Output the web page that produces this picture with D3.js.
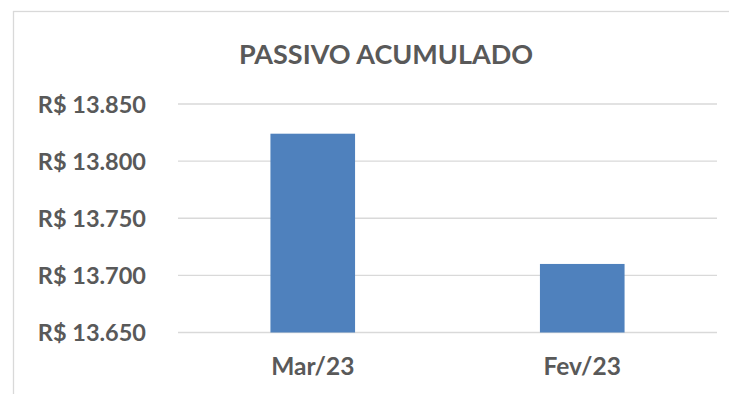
<!DOCTYPE html>
<html>
<head>
<meta charset="utf-8">
<script src="https://cdn.jsdelivr.net/npm/d3@7"></script>
<style>
  html, body { margin: 0; padding: 0; background: #fff; }
  svg { display: block; }
  text { font-family: Lato, "Open Sans", sans-serif; font-weight: bold; fill: #595959; }
</style>
</head>
<body>
<svg id="chart" width="729" height="394"></svg>
<script>
// Chart data
const title = "PASSIVO ACUMULADO";
const categories = ["Mar/23", "Fev/23"];
const values = [13824, 13710];
const tickValues = [13650, 13700, 13750, 13800, 13850];

const svg = d3.select("#chart");
const W = 729, H = 394;

// Chart area frame (open at the right and bottom edges)
svg.append("rect")
  .attr("x", 13.5).attr("y", 11.5)
  .attr("width", W).attr("height", H)
  .attr("fill", "none")
  .attr("stroke", "#d9d9d9")
  .attr("stroke-width", 1.3);

const plot = { left: 178, right: 717, top: 104, bottom: 332.5 };

const x = d3.scaleBand()
  .domain(categories)
  .range([plot.left, plot.right])
  .paddingInner(0.686)
  .paddingOuter(0.343);

const y = d3.scaleLinear()
  .domain([13650, 13850])
  .range([plot.bottom, plot.top]);

const brl = d3.formatLocale({ decimal: ",", thousands: ".", grouping: [3], currency: ["R$ ", ""] });
const fmt = brl.format("$,.0f");

// Gridlines
svg.append("g")
  .selectAll("line")
  .data(tickValues)
  .join("line")
  .attr("x1", plot.left).attr("x2", plot.right)
  .attr("y1", d => y(d)).attr("y2", d => y(d))
  .attr("stroke", "#d9d9d9")
  .attr("stroke-width", 1.4);

// Y axis labels
const yAxis = d3.axisLeft(y).tickValues(tickValues).tickFormat(fmt).tickSize(0).tickPadding(0);
const gy = svg.append("g")
  .attr("transform", "translate(146,0)")
  .call(yAxis);
gy.select(".domain").remove();
gy.selectAll("text")
  .attr("font-size", 23.5)
  .attr("font-family", "Lato, sans-serif")
  .attr("font-weight", "bold")
  .attr("fill", "#595959")
  .attr("dy", "0.35em");

// Bars
svg.append("g")
  .selectAll("rect")
  .data(values)
  .join("rect")
  .attr("x", (d, i) => x(categories[i]))
  .attr("width", x.bandwidth())
  .attr("y", d => y(d))
  .attr("height", d => y(13650) - y(d))
  .attr("fill", "#4f81bd");

// X axis labels
const xAxis = d3.axisBottom(x).tickSize(0).tickPadding(0);
const gx = svg.append("g")
  .attr("transform", `translate(0,${375})`)
  .call(xAxis);
gx.select(".domain").remove();
gx.selectAll("text")
  .attr("font-size", 24.5)
  .attr("font-family", "Lato, sans-serif")
  .attr("font-weight", "bold")
  .attr("fill", "#595959")
  .attr("dy", 0);

// Title
svg.append("text")
  .attr("x", 386)
  .attr("y", 63.5)
  .attr("text-anchor", "middle")
  .attr("font-size", 27)
  .text(title);
</script>
</body>
</html>
